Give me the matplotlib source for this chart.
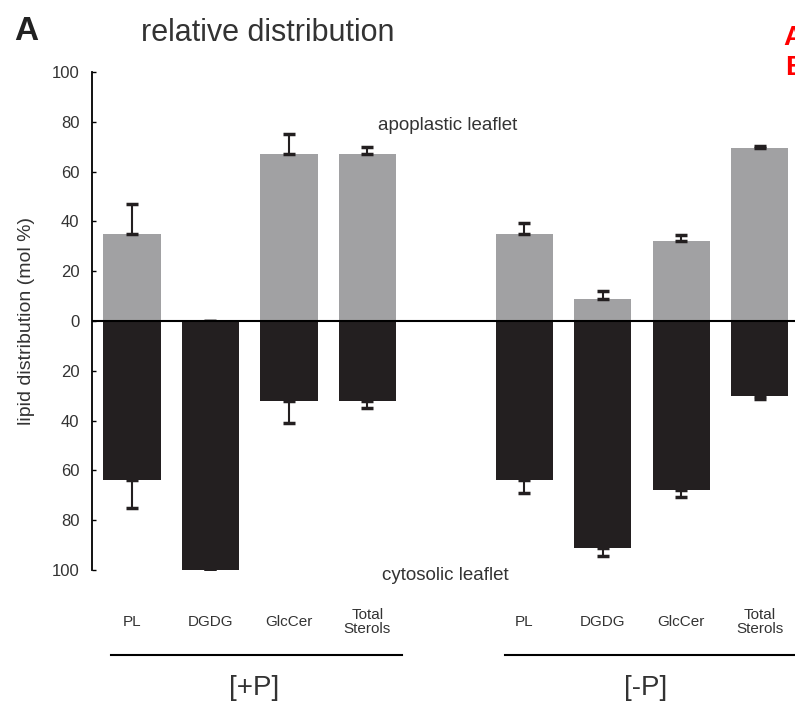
import matplotlib
matplotlib.use('Agg')
import matplotlib.pyplot as plt

plt.rcParams['font.family'] = ['Liberation Sans', 'DejaVu Sans']

lipids = ['PL', 'DGDG', 'GlcCer', 'Total\nSterols']
groups = ['[+P]', '[-P]']

# apoplastic (upper) and cytosolic (lower) leaflet, mol %
apo_plus = [35, 0, 67, 67]
apo_plus_err = [12, 0, 8, 3]
cyto_plus = [64, 100, 32, 32]
cyto_plus_err = [11, 0.5, 9, 3]

apo_minus = [35, 9, 32, 69.5]
apo_minus_err = [4.5, 3, 2.5, 0.7]
cyto_minus = [64, 91, 68, 30]
cyto_minus_err = [5, 3.5, 2.5, 1.5]

grey = '#a1a1a3'
dark = '#231f20'
txt = '#333333'

fig = plt.figure(figsize=(7.95, 7.08), dpi=100)
ax = fig.add_axes([92/795, 138/708, 1 - 92/795, 498/708])

pos_plus = [0, 1, 2, 3]
pos_minus = [5, 6, 7, 8]
w = 0.73

for pos, apo, apo_e, cyto, cyto_e in [(pos_plus, apo_plus, apo_plus_err, cyto_plus, cyto_plus_err),
                                      (pos_minus, apo_minus, apo_minus_err, cyto_minus, cyto_minus_err)]:
    ax.bar(pos, apo, w, color=grey, zorder=2)
    ax.bar(pos, [-c for c in cyto], w, color=dark, zorder=2)
    ax.errorbar(pos, apo, yerr=[[0]*4, apo_e], fmt='none', ecolor=dark,
                elinewidth=1.5, capsize=4, capthick=2.5, zorder=3)
    ax.errorbar(pos, [-c for c in cyto], yerr=[cyto_e, [0]*4], fmt='none', ecolor=dark,
                elinewidth=1.5, capsize=4, capthick=2.5, zorder=3)

ax.axhline(0, color='black', lw=1.5, zorder=4)

ax.set_xlim(-0.51, 8.45)
ax.set_ylim(-100, 100)
ax.set_yticks(range(-100, 101, 20))
ax.set_yticklabels([str(abs(v)) for v in range(-100, 101, 20)], fontsize=12, color=txt)
ax.tick_params(axis='y', direction='in', length=3, width=1, pad=9)
ax.set_xticks([])
for s in ['top', 'right', 'bottom']:
    ax.spines[s].set_visible(False)
ax.spines['left'].set_linewidth(1.3)
ax.set_ylabel('lipid distribution (mol %)', fontsize=14, color=txt, labelpad=12)

tr = ax.get_xaxis_transform()
for pos in [pos_plus, pos_minus]:
    for p, lab in zip(pos, lipids):
        ax.text(p, -0.104, lab, transform=tr, ha='center', va='center', fontsize=11,
                color=txt, linespacing=1.0, multialignment='center')

ax.plot([-0.27, 3.44], [-0.171, -0.171], transform=tr, color='black', lw=1.5, clip_on=False)
ax.plot([4.76, 8.6], [-0.171, -0.171], transform=tr, color='black', lw=1.5, clip_on=False)
ax.text(1.55, -0.237, groups[0], transform=tr, ha='center', va='center', fontsize=20, color=txt)
ax.text(6.55, -0.237, groups[1], transform=tr, ha='center', va='center', fontsize=20, color=txt)

fig.text(448/795, 1 - 125/708, 'apoplastic leaflet', fontsize=13.5,
         color=txt, ha='center', va='center')
fig.text(445/795, 1 - 575/708, 'cytosolic leaflet', fontsize=13.5,
         color=txt, ha='center', va='center')

fig.text(14/795, 1 - 32/708, 'A', fontsize=24, fontweight='bold', color='#222222', va='center')
fig.text(268/795, 1 - 33/708, 'relative distribution', fontsize=22, color=txt,
         ha='center', va='center')
fig.text(783/795, 1 - 38/708, 'A', fontsize=20, fontweight='bold', color='red', va='center')
fig.text(785/795, 1 - 68/708, 'B', fontsize=20, fontweight='bold', color='red', va='center')

fig.savefig('out.png', dpi=100)
